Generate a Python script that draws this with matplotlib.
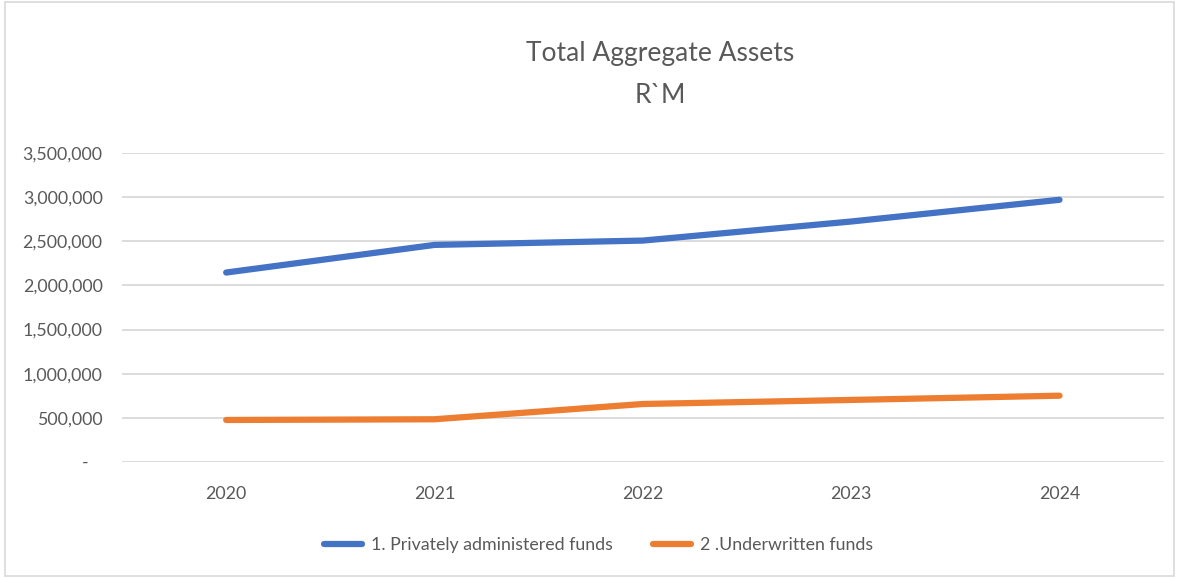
import matplotlib.pyplot as plt
from matplotlib.patches import Rectangle
from matplotlib.lines import Line2D

years = ['2020', '2021', '2022', '2023', '2024']
private_funds = [2146000, 2459000, 2508000, 2724000, 2970000]
underwritten_funds = [476000, 484000, 657000, 703000, 751000]
series_names = ['1. Privately administered funds', '2 .Underwritten funds']
y_ticks = [0, 500000, 1000000, 1500000, 2000000, 2500000, 3000000, 3500000]

plt.rcParams['font.family'] = ['Lato', 'DejaVu Sans']
text_grey = '#595959'
blue = '#4472C4'
orange = '#ED7D31'

fig = plt.figure(figsize=(11.79, 5.78), dpi=100)
ax = fig.add_axes([0.1035, 0.2007, 0.8835, 0.5346])

x = range(len(years))
ax.plot(x, private_funds, color=blue, lw=4.5, solid_capstyle='round', zorder=3)
ax.plot(x, underwritten_funds, color=orange, lw=4.5, solid_capstyle='round', zorder=3)

ax.set_xlim(-0.5, len(years) - 0.5)
ax.set_ylim(0, 3500000)
ax.set_xticks(list(x))
ax.set_xticklabels(years)
ax.set_yticks(y_ticks)
ax.set_yticklabels([f'{v:,}' if v else '-   ' for v in y_ticks])
ax.tick_params(axis='both', length=0, labelsize=12.8, colors=text_grey)
ax.tick_params(axis='x', pad=17)
ax.tick_params(axis='y', pad=14)

ax.grid(axis='y', color='#D9D9D9', lw=1.3)
ax.set_axisbelow(True)
for s in ax.spines.values():
    s.set_visible(False)

fig.text(0.560, 0.871, 'Total Aggregate Assets\nR`M', ha='center', va='center',
         fontsize=19, color=text_grey, linespacing=1.85)

handles = [Line2D([], [], color=blue, lw=4.5, solid_capstyle='round'),
           Line2D([], [], color=orange, lw=4.5, solid_capstyle='round')]
fig.legend(handles, series_names, loc='center', bbox_to_anchor=(0.5076, 0.057),
           ncol=2, frameon=False, fontsize=12.8, handlelength=2.1, handletextpad=0.5,
           columnspacing=2.3, labelcolor=text_grey)

fig.patches.append(Rectangle((0.004, 0.004), 0.992, 0.992, transform=fig.transFigure,
                             fill=False, edgecolor='#D9D9D9', lw=1.2))

fig.savefig('out.png', dpi=100)
